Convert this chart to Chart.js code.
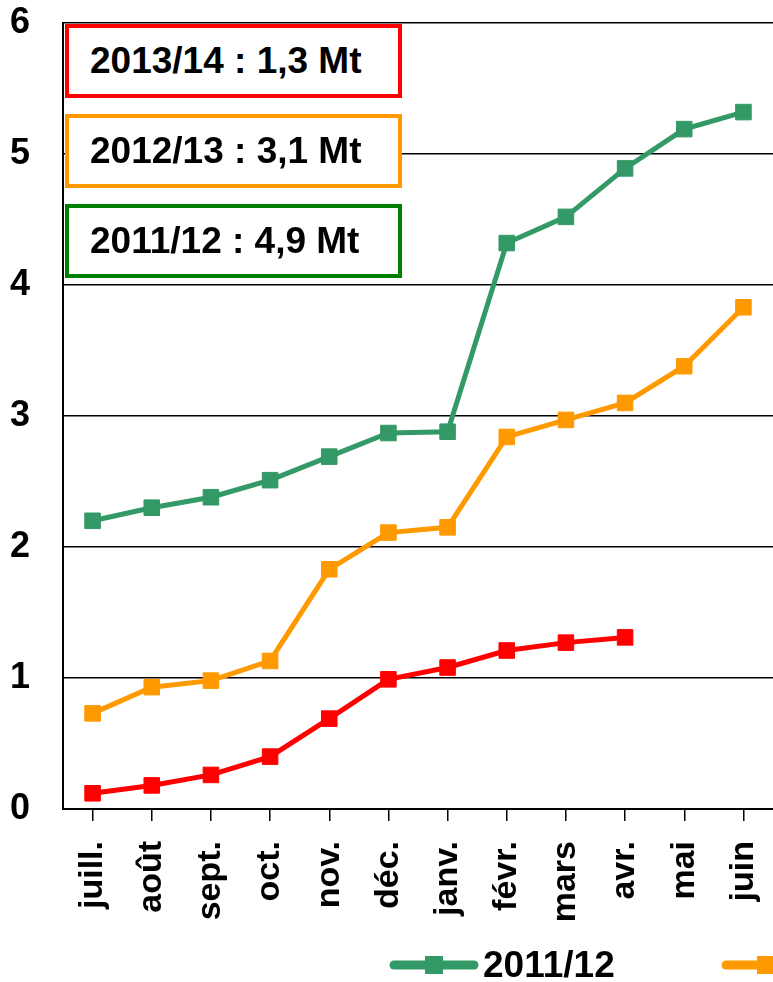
<!DOCTYPE html>
<html>
<head>
<meta charset="utf-8">
<script src="https://cdn.jsdelivr.net/npm/chart.js@4.4.1/dist/chart.umd.min.js"></script>
<style>
  html, body { margin:0; padding:0; background:#fff; }
  #wrap { position:relative; width:773px; height:982px; overflow:hidden; }
  #chart { position:absolute; left:0; top:0; }
  .box { position:absolute; left:65px; width:308px; height:66px; border:4px solid #000; background:#fff;
         font:bold 37px "Liberation Sans", Arial, sans-serif; color:#000; line-height:66px;
         padding-left:21px; box-sizing:content-box; white-space:nowrap; }
</style>
</head>
<body>
<div id="wrap">
  <canvas id="chart" width="773" height="982"></canvas>
</div>
<script>
const months = ['juill.','août','sept.','oct.','nov.','déc.','janv.','févr.','mars','avr.','mai','juin'];
const seasons = ['2011/12','2012/13','2013/14'];
const colors = ['#339966','#ff9900','#ff0000'];
const s1112 = [2.20,2.30,2.38,2.51,2.69,2.87,2.88,4.32,4.52,4.89,5.19,5.32];
const s1213 = [0.73,0.93,0.98,1.13,1.83,2.11,2.15,2.84,2.97,3.10,3.38,3.83];
const s1314 = [0.12,0.18,0.26,0.40,0.69,0.99,1.08,1.21,1.27,1.31,null,null];
const yTicks = [0,1,2,3,4,5,6];

// encadrés de synthèse
const boxLabels = ['2013/14 : 1,3 Mt','2012/13 : 3,1 Mt','2011/12 : 4,9 Mt'];
const boxColors = ['#ff0000','#ff9900','#008000'];
const boxTops = [24,114,204];

const wrap = document.getElementById('wrap');
boxLabels.forEach((t,i)=>{
  const d = document.createElement('div');
  d.className = 'box';
  d.style.top = boxTops[i]+'px';
  d.style.borderColor = boxColors[i];
  d.textContent = t;
  wrap.appendChild(d);
});

const FONT = '"Liberation Sans", Arial, sans-serif';

const legendPlugin = {
  id:'bottomLegend',
  afterDraw(chart){
    const ctx = chart.ctx;
    ctx.save();
    chart.data.datasets.forEach((ds,i)=>{
      const x0 = 390 + i*332, y = 965;
      ctx.strokeStyle = ds.borderColor;
      ctx.lineWidth = 9;
      ctx.lineCap = 'round';
      ctx.beginPath(); ctx.moveTo(x0+4,y); ctx.lineTo(x0+84,y); ctx.stroke();
      ctx.fillStyle = ds.borderColor;
      ctx.fillRect(x0+44-9,y-9,18,18);
      ctx.fillStyle = '#000';
      ctx.font = 'bold 37px '+FONT;
      ctx.textBaseline = 'middle';
      ctx.textAlign = 'left';
      ctx.fillText(ds.label, x0+93, y+2);
    });
    ctx.restore();
  }
};

const mk = (i,data)=>({
  label: seasons[i], data,
  borderColor: colors[i], backgroundColor: colors[i],
  borderWidth: 5, pointStyle:'rect', pointRadius: 11,
  pointBorderWidth: 1, pointBorderColor: colors[i], pointBackgroundColor: colors[i],
  tension: 0, spanGaps: false
});

new Chart(document.getElementById('chart').getContext('2d'), {
  type:'line',
  data:{ labels: months, datasets:[ mk(0,s1112), mk(1,s1213), mk(2,s1314) ] },
  options:{
    responsive:false, animation:false, devicePixelRatio:1,
    layout:{ autoPadding:false, padding:{ top:23, right:-2, left:0, bottom:0 } },
    plugins:{ legend:{display:false}, tooltip:{enabled:false} },
    scales:{
      x:{
        offset:true,
        grid:{ drawOnChartArea:false, drawTicks:true, tickLength:12, color:'#000', lineWidth:1.5 },
        border:{ color:'#000', width:2 },
        ticks:{ color:'#000', font:{ family:FONT, size:34, weight:'bold' }, maxRotation:90, minRotation:90, padding:20, autoSkip:false },
        afterFit(s){ s.height = 173; s.paddingLeft = 0; s.paddingRight = 0; }
      },
      y:{
        min:0, max:6,
        afterBuildTicks(s){ s.ticks = yTicks.map(v=>({value:v})); },
        grid:{ color:'#000', lineWidth:1.5, drawTicks:false },
        border:{ color:'#000', width:2 },
        ticks:{ color:'#000', font:{ family:FONT, size:36, weight:'bold' }, padding:33 },
        afterFit(s){ s.width = 63; s.paddingTop = 0; s.paddingBottom = 0; }
      }
    }
  },
  plugins:[legendPlugin]
});
</script>
</body>
</html>
